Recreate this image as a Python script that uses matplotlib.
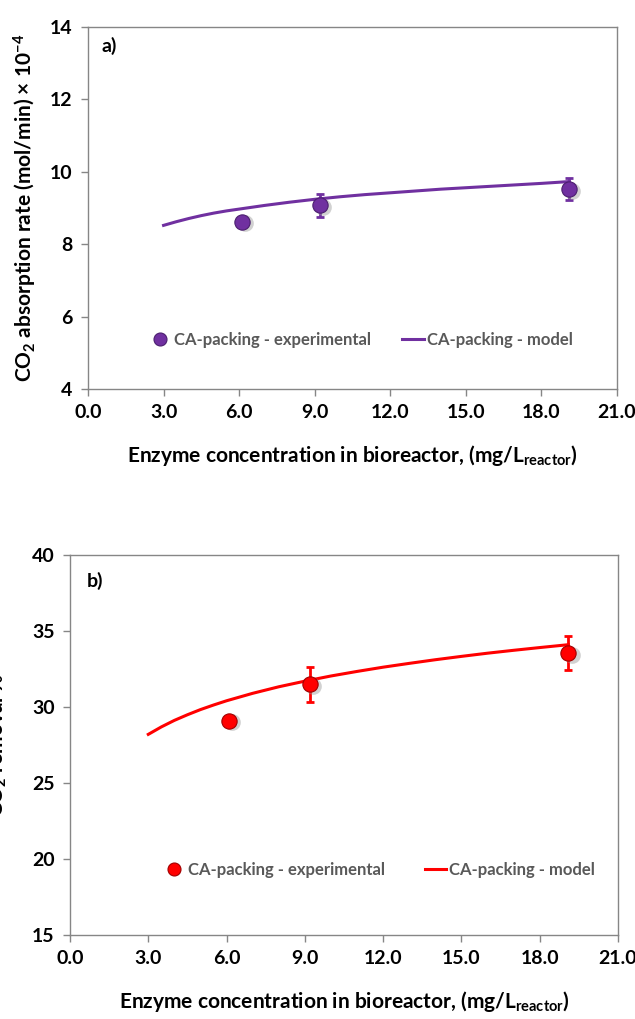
import numpy as np
import matplotlib.pyplot as plt

plt.rcParams['font.family'] = ['Lato', 'DejaVu Sans']
plt.rcParams['font.weight'] = 'bold'
plt.rcParams['mathtext.default'] = 'regular'

# experimental points
conc_exp = [6.1, 9.2, 19.1]
rate_exp = [8.62, 9.07, 9.52]
rate_err = [0.0, 0.32, 0.30]
removal_exp = [29.1, 31.5, 33.55]
removal_err = [0.0, 1.15, 1.10]

# model curves
conc_model = [3.0, 3.5, 4.0, 4.5, 5.0, 5.5, 6.0, 7.0, 8.0, 9.0, 10.0, 11.0,
              12.0, 13.0, 14.0, 15.0, 16.0, 17.0, 18.0, 19.1]
rate_model = [8.52, 8.62, 8.71, 8.79, 8.86, 8.92, 8.97, 9.07, 9.16, 9.24,
              9.31, 9.37, 9.42, 9.47, 9.52, 9.56, 9.60, 9.64, 9.68, 9.73]
removal_model = [28.20, 28.69, 29.12, 29.49, 29.83, 30.13, 30.41, 30.90,
                 31.33, 31.70, 32.04, 32.34, 32.62, 32.87, 33.11, 33.33,
                 33.54, 33.73, 33.91, 34.10]

xticks = [0.0, 3.0, 6.0, 9.0, 12.0, 15.0, 18.0, 21.0]

fig = plt.figure(figsize=(6.35, 10.19), dpi=100)
W, H = 635, 1019


def add_ax(left, top, right, bottom):
    return fig.add_axes([left / W, 1 - bottom / H, (right - left) / W, (bottom - top) / H])


ax1 = add_ax(88, 27, 617, 389)
ax2 = add_ax(70, 555, 618, 935)

panels = [
    (ax1, rate_exp, rate_err, rate_model, '#7030A0', '#4B1F6F', (4, 14),
     [4, 6, 8, 10, 12, 14], 'a)', (0.025, 0.972), (0.516, 0.135), 1.9),
    (ax2, removal_exp, removal_err, removal_model, '#FF0000', '#A00000', (15, 40),
     [15, 20, 25, 30, 35, 40], 'b)', (0.031, 0.955), (0.564, 0.172), 2.4),
]

for ax, yexp, yerr, ymod, col, dark, ylim, yticks, tag, tagpos, legpos, colsp in panels:
    ax.plot(conc_model, ymod, color=col, lw=2.2, label='CA-packing - model', zorder=2)
    ax.errorbar(conc_exp, yexp, yerr=yerr, fmt='none', ecolor=col, elinewidth=2,
                capsize=3, capthick=2, zorder=3)
    # soft shadow behind the spheres
    ax.plot(np.array(conc_exp) + 0.12, np.array(yexp) - (ylim[1] - ylim[0]) * 0.004,
            'o', ms=12, mfc='#9a9a9a', mec='none', alpha=0.45, zorder=3.5)
    ax.plot(conc_exp, yexp, 'o', ms=11, mfc=col, mec=dark, mew=0.8,
            label='CA-packing - experimental', zorder=4)
    ax.set_xlim(0, 21)
    ax.set_ylim(*ylim)
    ax.set_xticks(xticks)
    ax.set_xticklabels([f'{v:.1f}' for v in xticks])
    ax.set_yticks(yticks)
    for s in ax.spines.values():
        s.set_color('#868686')
        s.set_linewidth(1.0)
    ax.tick_params(direction='out', length=5, width=1, color='#868686',
                   labelsize=14, pad=6)
    ax.text(tagpos[0], tagpos[1], tag, transform=ax.transAxes,
            fontsize=14, fontweight='bold', va='top')
    h, l = ax.get_legend_handles_labels()
    h = [h[0], h[-1]]
    l = [l[0], l[-1]]
    leg = ax.legend(h[::-1], l[::-1], ncol=2, frameon=False, fontsize=12,
                    loc='center', bbox_to_anchor=legpos,
                    handlelength=1.3, handletextpad=0.15, columnspacing=colsp,
                    markerscale=0.85)
    for t in leg.get_texts():
        t.set_color('#595959')
    ax.set_xlabel(r'Enzyme concentration in bioreactor, (mg/L$_{reactor}$)',
                  fontsize=15, fontweight='bold', labelpad=16)

ax1.set_ylabel(r'CO$_2$ absorption rate (mol/min) × 10$^{-4}$', fontsize=15,
               fontweight='bold', labelpad=8)
ax2.set_ylabel(r'CO$_2$ removal %', fontsize=15, fontweight='bold')
ax2.yaxis.set_label_coords(-0.112, 0.5)

fig.savefig('out.png', dpi=100)
